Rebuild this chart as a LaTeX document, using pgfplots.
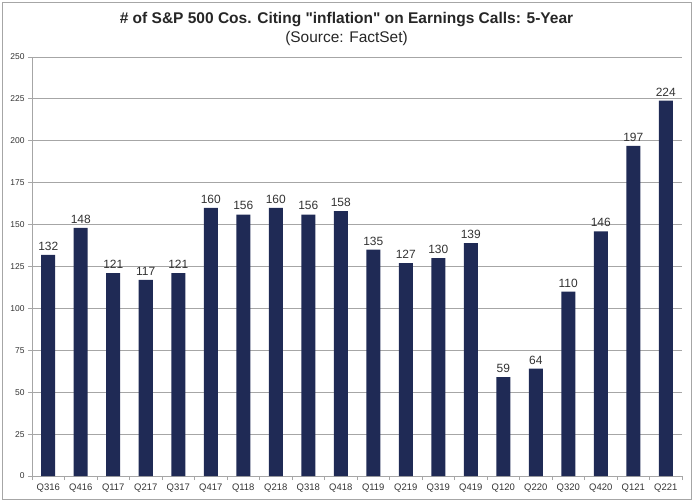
\documentclass[border=0pt]{standalone}
\usepackage{pgfplots}
\pgfplotsset{compat=1.18}
\usepackage{fontspec}
\setmainfont{Liberation Sans}
% plain XeTeX font, no tex-text mapping, so " stays straight
\font\titlefont="Liberation Sans/B" at 15.5bp
\definecolor{barnavy}{HTML}{1F2A55}
\definecolor{gridgray}{HTML}{A6A6A6}
\definecolor{txtgray}{HTML}{333333}

\begin{document}
\begin{tikzpicture}
\path (-32bp,-26bp) rectangle (661bp,476bp);
\draw[gridgray, line width=0.8bp] (-30bp,-23bp) rectangle (659bp,474bp);
\begin{axis}[
    at={(0,0)}, anchor=south west,
    scale only axis,
    width=650bp, height=419bp,
    ybar,
    bar width=14bp,
    xmin=-0.5, xmax=19.5,
    ymin=0, ymax=250,
    ytick={0,25,...,250},
    xtick=data,
    xticklabels={Q316,Q416,Q117,Q217,Q317,Q417,Q118,Q218,Q318,Q418,Q119,Q219,Q319,Q419,Q120,Q220,Q320,Q420,Q121,Q221},
    minor xtick={-0.5,0.5,...,19.5},
    major x tick style={draw=none},
    minor tick length=4bp,
    major tick length=4bp,
    tick align=outside,
    axis x line*=bottom,
    axis y line*=left,
    axis line style={gridgray, line width=0.8bp},
    tick style={gridgray, line width=0.8bp},
    ymajorgrids,
    major grid style={gridgray, line width=0.8bp},
    yticklabel style={font=\fontsize{8.5}{10}\selectfont, text=txtgray},
    xticklabel style={font=\fontsize{9.5}{10}\selectfont, text=txtgray},
    /pgf/number format/assume math mode=true,
    nodes near coords,
    every node near coord/.append style={font=\fontsize{12}{13}\selectfont, text=txtgray, yshift=1bp},
    clip=false,
]
\addplot[draw=none, fill=barnavy] coordinates {
    (0,132) (1,148) (2,121) (3,117) (4,121)
    (5,160) (6,156) (7,160) (8,156) (9,158)
    (10,135) (11,127) (12,130) (13,139) (14,59)
    (15,64) (16,110) (17,146) (18,197) (19,224)
};
\end{axis}
\node[font=\titlefont, text=black!85] at (314.5bp,456bp) {\# of S\&P 500 Cos. Citing "inflation" on Earnings Calls: 5-Year};
\node[font=\fontsize{15.5}{17}\selectfont, text=black!85] at (314.5bp,437bp) {(Source: FactSet)};
\end{tikzpicture}
\end{document}
